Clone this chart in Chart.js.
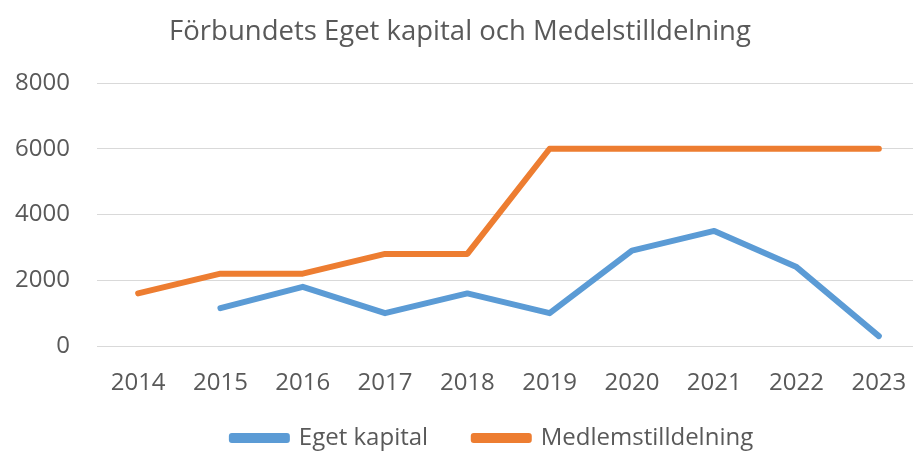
<!DOCTYPE html>
<html>
<head>
<meta charset="utf-8">
<script src="https://cdn.jsdelivr.net/npm/chart.js@4/dist/chart.umd.min.js"></script>
<style>
  html, body { margin: 0; padding: 0; background: #fff; }
  #wrap { width: 913px; height: 451px; position: relative; }
</style>
</head>
<body>
<div id="wrap"><canvas id="chart"></canvas></div>
<script>
  // Data
  const years = ["2014", "2015", "2016", "2017", "2018", "2019", "2020", "2021", "2022", "2023"];
  const egetKapital = [null, 1150, 1800, 1000, 1600, 1000, 2900, 3500, 2400, 300];
  const medelstilldelning = [1600, 2200, 2200, 2800, 2800, 6000, 6000, 6000, 6000, 6000];
  const yTicks = [0, 2000, 4000, 6000, 8000];

  const FONT = "'Open Sans', 'Noto Sans', sans-serif";
  const GREY = "#595959";
  const BLUE = "#5b9bd5";
  const ORANGE = "#ed7d31";

  function lineSet(label, data, color) {
    return {
      label,
      data,
      borderColor: color,
      backgroundColor: color,
      borderWidth: 6,
      pointRadius: 0,
      borderCapStyle: "round",
      borderJoinStyle: "round",
      tension: 0
    };
  }

  // the original's category slots run a little past the right edge of the picture
  const stretchX = {
    id: "stretchX",
    afterLayout(chart) {
      const x = chart.scales.x;
      x.right = chart.width + 7;
      x.width = x.right - x.left;
      x.configure();
    }
  };

  new Chart(document.getElementById("chart"), {
    type: "line",
    data: {
      labels: years,
      datasets: [
        lineSet("Eget kapital", egetKapital, BLUE),
        lineSet("Medlemstilldelning", medelstilldelning, ORANGE)
      ]
    },
    plugins: [stretchX],
    options: {
      responsive: true,
      maintainAspectRatio: false,
      animation: false,
      layout: { padding: { left: 0, right: -7, top: 0, bottom: -9 } },
      scales: {
        x: {
          offset: true,
          grid: { display: false, drawTicks: false },
          border: { display: false },
          ticks: { color: GREY, font: { family: FONT, size: 24 }, padding: 23, maxRotation: 0 },
          // keep labels from pushing the plot in, and leave room above the legend
          afterFit: (axis) => {
            axis.paddingLeft = 0;
            axis.paddingRight = 0;
            axis.height = 78;
          }
        },
        y: {
          min: 0,
          max: 8000,
          afterBuildTicks: (axis) => { axis.ticks = yTicks.map(v => ({ value: v })); },
          afterFit: (axis) => { axis.width = 97; },
          grid: { color: "#d9d9d9", lineWidth: 1, drawTicks: false },
          border: { display: false },
          ticks: {
            color: GREY,
            font: { family: FONT, size: 24 },
            padding: 27,
            callback: (v) => String(v)
          }
        }
      },
      plugins: {
        title: {
          display: true,
          text: "Förbundets Eget kapital och Medelstilldelning",
          color: GREY,
          font: { family: FONT, size: 27.5, weight: "normal" },
          padding: { top: 16, bottom: 34 }
        },
        legend: {
          position: "bottom",
          fullSize: false,
          labels: {
            color: GREY,
            font: { family: FONT, size: 24 },
            boxWidth: 55,
            boxHeight: 4,
            padding: 2,
            // wider gap between the two entries, as in the original
            generateLabels: (chart) => {
              const items = Chart.defaults.plugins.legend.labels.generateLabels(chart);
              items[0].text += "       ";
              items[1].text += "    ";
              return items;
            }
          }
        },
        tooltip: { enabled: false }
      }
    }
  });
</script>
</body>
</html>
